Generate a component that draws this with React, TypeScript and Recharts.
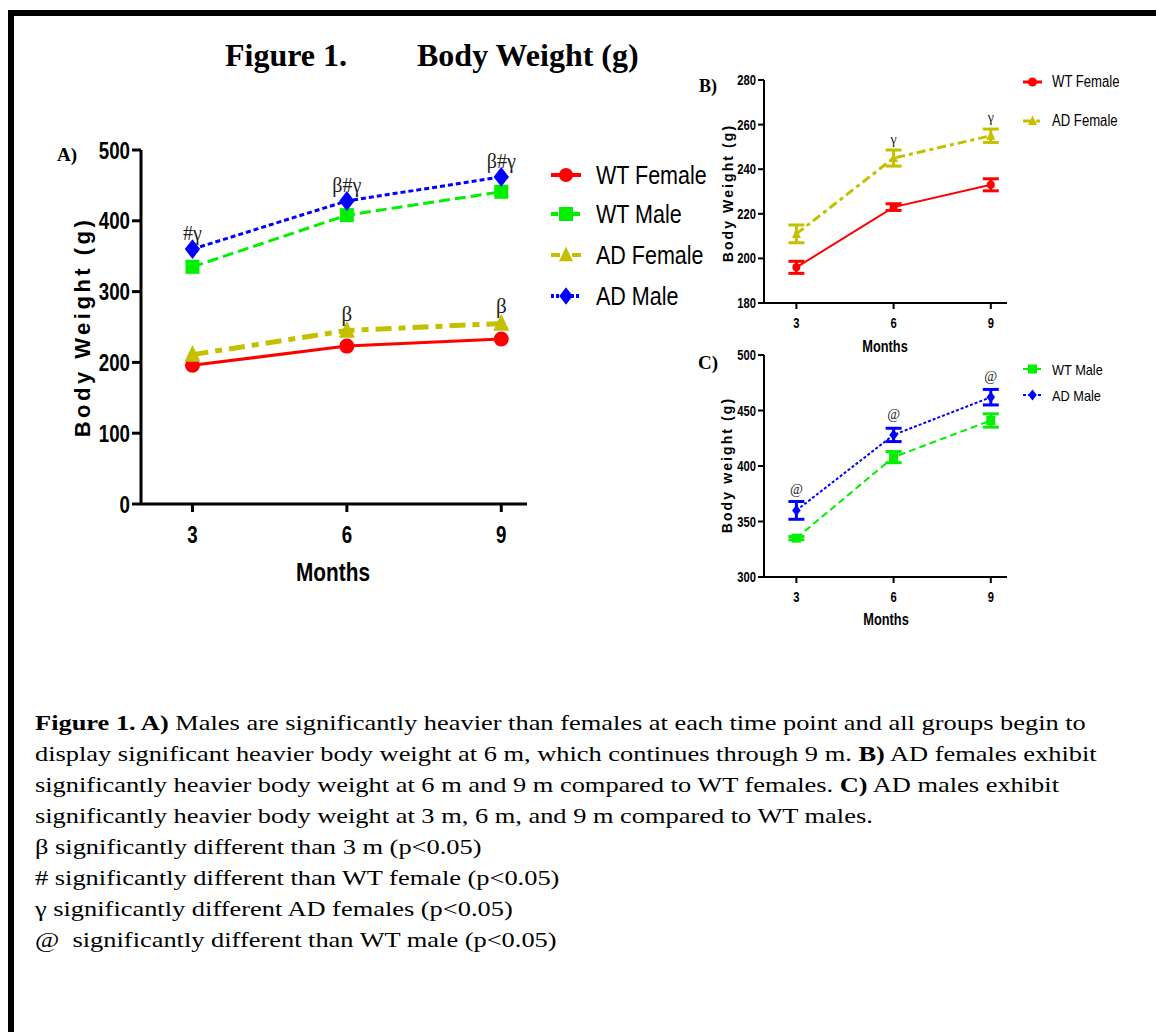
import React from 'react';
import { LineChart, Line, XAxis, YAxis, ErrorBar, LabelList } from 'recharts';

// months on the x axis
const months = [3, 6, 9];

// group means (g)
const wtFemale = [196, 223, 233];
const adFemale = [211, 245, 255];
const wtMale = [335, 408, 441];
const adMale = [360, 428, 462];

// SEM (g)
const wtFemaleErr = [2.7, 1.5, 2.7];
const adFemaleErr = [4, 3.6, 3];
const wtMaleErr = [1.5, 5, 6];
const adMaleErr = [8, 6, 7];

// significance marks
const markA_adMale = ['#γ', 'β#γ', 'β#γ'];
const markA_adFemale = ['', 'β', 'β'];
const markB_adFemale = ['', 'γ', 'γ'];
const markC_adMale = ['@', '@', '@'];

const ticksA = [0, 100, 200, 300, 400, 500];
const ticksB = [180, 200, 220, 240, 260, 280];
const ticksC = [300, 350, 400, 450, 500];
const xTicks = [3, 6, 9];

const data = months.map((m, i) => ({
  month: m,
  wtF: wtFemale[i],
  adF: adFemale[i],
  wtM: wtMale[i],
  adM: adMale[i],
  wtFErr: wtFemaleErr[i],
  adFErr: adFemaleErr[i],
  wtMErr: wtMaleErr[i],
  adMErr: adMaleErr[i],
  mA_adM: markA_adMale[i],
  mA_adF: markA_adFemale[i],
  mB_adF: markB_adFemale[i],
  mC_adM: markC_adMale[i],
}));

const RED = '#ff0000';
const GREEN = '#00f000';
const OLIVE = '#c4c000';
const BLUE = '#0000ff';

const SANS = "'Liberation Sans', Arial, sans-serif";
const SERIF = "'Liberation Serif', 'Times New Roman', serif";

type Shape = 'circle' | 'square' | 'triangle' | 'diamond';

const Marker = ({ shape, cx, cy, size, color }: { shape: Shape; cx: number; cy: number; size: number; color: string }) => {
  const h = size / 2;
  if (shape === 'circle') return <circle cx={cx} cy={cy} r={h} fill={color} />;
  if (shape === 'square') return <rect x={cx - h} y={cy - h} width={size} height={size} fill={color} />;
  if (shape === 'triangle')
    return <polygon points={`${cx},${cy - size * 0.6} ${cx - h},${cy + size * 0.45} ${cx + h},${cy + size * 0.45}`} fill={color} />;
  return <polygon points={`${cx},${cy - size * 0.62} ${cx + size * 0.48},${cy} ${cx},${cy + size * 0.62} ${cx - size * 0.48},${cy}`} fill={color} />;
};

const series = {
  wtF: { name: 'WT Female', color: RED, shape: 'circle' as Shape, dashA: undefined, dashB: undefined },
  wtM: { name: 'WT Male', color: GREEN, shape: 'square' as Shape, dashA: '11 5', dashB: '7 4' },
  adF: { name: 'AD Female', color: OLIVE, shape: 'triangle' as Shape, dashA: '16 7 7 7', dashB: '9 4 4 4' },
  adM: { name: 'AD Male', color: BLUE, shape: 'diamond' as Shape, dashA: '5 3', dashB: '3 2' },
};
type Key = keyof typeof series;

const dotFor = (k: Key, size: number) => (p: any) => (
  <Marker key={`${k}-${p.index}`} shape={series[k].shape} cx={p.cx} cy={p.cy} size={size} color={series[k].color} />
);

// condensed bold tick labels (GraphPad-style narrow font)
const narrowTick = (fontSize: number, anchor: 'end' | 'middle', squeeze: number) => (p: any) => (
  <g transform={`translate(${p.x},${p.y}) scale(${squeeze},1)`}>
    <text x={0} y={0} textAnchor={anchor} dy={anchor === 'end' ? '0.36em' : '0.72em'} fontSize={fontSize} fontWeight="bold" fontFamily={SANS} fill="#000">
      {p.payload.value}
    </text>
  </g>
);

const LegendBox = ({ keys, left, rows, fontSize, lineW, size, strokeW, squeeze }: any) => (
  <>
    {keys.map((k: Key, i: number) => (
      <div key={k} style={{ position: 'absolute', left, top: rows[i] - 15, height: 30, display: 'flex', alignItems: 'center' }}>
        <svg width={lineW} height={30}>
          <line x1={0} y1={15} x2={lineW} y2={15} stroke={series[k].color} strokeWidth={strokeW} strokeDasharray={series[k].dashB} />
          <Marker shape={series[k].shape} cx={lineW / 2} cy={15} size={size} color={series[k].color} />
        </svg>
        <span style={{ display: 'inline-block', fontFamily: SANS, fontSize, marginLeft: lineW * 0.5, color: '#000', whiteSpace: 'nowrap', transform: `scaleX(${squeeze})`, transformOrigin: 'left center' }}>
          {series[k].name}
        </span>
      </div>
    ))}
  </>
);

const RotTitle = ({ cx, cy, text, size, spacing }: any) => (
  <div style={{ position: 'absolute', left: cx, top: cy, transform: 'translate(-50%, -50%) rotate(-90deg)', whiteSpace: 'nowrap', fontFamily: SANS, fontWeight: 'bold', fontSize: size, letterSpacing: spacing, lineHeight: 1 }}>
    {text}
  </div>
);

const Txt = ({ left, cy, children, style }: any) => (
  <div style={{ position: 'absolute', left, top: cy, transform: 'translateY(-50%)', whiteSpace: 'nowrap', lineHeight: 1, ...style }}>
    {children}
  </div>
);

const captionLines = [
  [<b key="a">Figure 1. A)</b>, ' Males are significantly heavier than females at each time point and all groups begin to'],
  ['display significant heavier body weight at 6 m, which continues through 9 m. ', <b key="b">B)</b>, ' AD females exhibit'],
  ['significantly heavier body weight at 6 m and 9 m compared to WT females. ', <b key="c">C)</b>, ' AD males exhibit'],
  ['significantly heavier body weight at 3 m, 6 m, and 9 m compared to WT males.'],
  ['β significantly different than 3 m (p<0.05)'],
  ['# significantly different than WT female (p<0.05)'],
  ['γ significantly different AD females (p<0.05)'],
  ['@  significantly different than WT male (p<0.05)'],
];

const App = () => {
  const axisA = { stroke: '#000', strokeWidth: 3 };
  const axisS = { stroke: '#000', strokeWidth: 2 };
  const monthsA = { fontFamily: SANS, fontWeight: 'bold', fontSize: 26, transform: 'translate(-50%, -50%) scaleX(0.8)' };
  const monthsS = { fontFamily: SANS, fontWeight: 'bold', fontSize: 16, transform: 'translate(-50%, -50%) scaleX(0.8)' };
  return (
    <div style={{ position: 'absolute', left: 0, top: 0, width: 1156, height: 1032, background: '#fff', overflow: 'hidden' }}>
      <div style={{ position: 'absolute', left: 8, top: 10, width: 1200, height: 1100, borderTop: '6px solid #000', borderLeft: '6px solid #000' }} />

      <Txt left={225} cy={55} style={{ fontFamily: SERIF, fontWeight: 'bold', fontSize: 32 }}>Figure 1.</Txt>
      <Txt left={417} cy={55} style={{ fontFamily: SERIF, fontWeight: 'bold', fontSize: 32 }}>Body Weight (g)</Txt>

      {/* Panel A */}
      <Txt left={57} cy={154} style={{ fontFamily: SERIF, fontWeight: 'bold', fontSize: 19 }}>A)</Txt>
      <div style={{ position: 'absolute', left: 0, top: 0 }}>
        <LineChart width={560} height={600} data={data} margin={{ top: 150, right: 33, left: 81, bottom: 66 }}>
          <XAxis dataKey="month" type="number" domain={[2, 9.5]} ticks={xTicks} axisLine={axisA} tickLine={axisA} tickSize={8} tickMargin={14} tick={narrowTick(24, 'middle', 0.78)} height={30} />
          <YAxis type="number" domain={[0, 500]} ticks={ticksA} axisLine={axisA} tickLine={axisA} tickSize={9} tickMargin={2} tick={narrowTick(24, 'end', 0.78)} width={60} />
          <Line dataKey="wtF" stroke={RED} strokeWidth={3} dot={dotFor('wtF', 15)} isAnimationActive={false} />
          <Line dataKey="wtM" stroke={GREEN} strokeWidth={3} strokeDasharray={series.wtM.dashA} dot={dotFor('wtM', 14)} isAnimationActive={false} />
          <Line dataKey="adF" stroke={OLIVE} strokeWidth={5} strokeDasharray={series.adF.dashA} dot={dotFor('adF', 16)} isAnimationActive={false}>
            <LabelList dataKey="mA_adF" position="top" offset={10} style={{ fontFamily: SERIF, fontSize: 21, fill: '#222' }} />
          </Line>
          <Line dataKey="adM" stroke={BLUE} strokeWidth={3} strokeDasharray={series.adM.dashA} dot={dotFor('adM', 16)} isAnimationActive={false}>
            <LabelList dataKey="mA_adM" position="top" offset={9} style={{ fontFamily: SERIF, fontSize: 20, fill: '#222' }} />
          </Line>
        </LineChart>
      </div>
      <RotTitle cx={83} cy={327} text="Body Weight (g)" size={22} spacing={3.5} />
      <Txt left={333} cy={572} style={monthsA}>Months</Txt>
      <LegendBox keys={['wtF', 'wtM', 'adF', 'adM']} left={551} rows={[175, 214, 255, 296]} fontSize={25} lineW={30} size={14} strokeW={4} squeeze={0.86} />

      {/* Panel B */}
      <Txt left={699} cy={86} style={{ fontFamily: SERIF, fontWeight: 'bold', fontSize: 18 }}>B)</Txt>
      <div style={{ position: 'absolute', left: 690, top: 0 }}>
        <LineChart width={340} height={330} data={data} margin={{ top: 80, right: 23, left: 34, bottom: 2 }}>
          <XAxis dataKey="month" type="number" domain={[2, 9.5]} ticks={xTicks} axisLine={axisS} tickLine={axisS} tickSize={6} tickMargin={9} tick={narrowTick(14, 'middle', 0.8)} height={25} />
          <YAxis type="number" domain={[180, 280]} ticks={ticksB} axisLine={axisS} tickLine={axisS} tickSize={6} tickMargin={2} tick={narrowTick(14, 'end', 0.8)} width={40} />
          <Line dataKey="wtF" stroke={RED} strokeWidth={2} dot={dotFor('wtF', 8)} isAnimationActive={false}>
            <ErrorBar dataKey="wtFErr" direction="y" width={8} strokeWidth={3} stroke={RED} isAnimationActive={false} />
          </Line>
          <Line dataKey="adF" stroke={OLIVE} strokeWidth={3} strokeDasharray={series.adF.dashB} dot={dotFor('adF', 9)} isAnimationActive={false}>
            <ErrorBar dataKey="adFErr" direction="y" width={8} strokeWidth={3} stroke={OLIVE} isAnimationActive={false} />
            <LabelList dataKey="mB_adF" position="top" offset={14} style={{ fontFamily: SERIF, fontSize: 14, fill: '#222' }} />
          </Line>
        </LineChart>
      </div>
      <RotTitle cx={728} cy={193} text="Body Weight (g)" size={14} spacing={2.1} />
      <Txt left={885} cy={347} style={monthsS}>Months</Txt>
      <LegendBox keys={['wtF', 'adF']} left={1023} rows={[82, 121]} fontSize={16} lineW={19} size={9} strokeW={3} squeeze={0.82} />

      {/* Panel C */}
      <Txt left={698} cy={362} style={{ fontFamily: SERIF, fontWeight: 'bold', fontSize: 19 }}>C)</Txt>
      <div style={{ position: 'absolute', left: 690, top: 330 }}>
        <LineChart width={340} height={300} data={data} margin={{ top: 25, right: 23, left: 34, bottom: 28 }}>
          <XAxis dataKey="month" type="number" domain={[2, 9.5]} ticks={xTicks} axisLine={axisS} tickLine={axisS} tickSize={6} tickMargin={9} tick={narrowTick(14, 'middle', 0.8)} height={25} />
          <YAxis type="number" domain={[300, 500]} ticks={ticksC} axisLine={axisS} tickLine={axisS} tickSize={6} tickMargin={2} tick={narrowTick(14, 'end', 0.8)} width={40} />
          <Line dataKey="wtM" stroke={GREEN} strokeWidth={2} strokeDasharray={series.wtM.dashB} dot={dotFor('wtM', 9)} isAnimationActive={false}>
            <ErrorBar dataKey="wtMErr" direction="y" width={8} strokeWidth={3} stroke={GREEN} isAnimationActive={false} />
          </Line>
          <Line dataKey="adM" stroke={BLUE} strokeWidth={2} strokeDasharray={series.adM.dashB} dot={dotFor('adM', 9)} isAnimationActive={false}>
            <ErrorBar dataKey="adMErr" direction="y" width={8} strokeWidth={3} stroke={BLUE} isAnimationActive={false} />
            <LabelList dataKey="mC_adM" position="top" offset={16} style={{ fontFamily: SERIF, fontSize: 14, fill: '#222' }} />
          </Line>
        </LineChart>
      </div>
      <RotTitle cx={727} cy={465} text="Body weight (g)" size={14} spacing={2.1} />
      <Txt left={886} cy={620} style={monthsS}>Months</Txt>
      <LegendBox keys={['wtM', 'adM']} left={1023} rows={[369, 395]} fontSize={15} lineW={19} size={9} strokeW={2} squeeze={0.85} />

      {/* caption */}
      <div style={{ position: 'absolute', left: 35, top: 707, fontFamily: SERIF, fontSize: 22, lineHeight: '31px', color: '#000', transform: 'scaleX(1.2)', transformOrigin: 'left top' }}>
        {captionLines.map((ln, i) => (
          <div key={i} style={{ whiteSpace: 'pre' }}>{ln}</div>
        ))}
      </div>
    </div>
  );
};

export default App;
